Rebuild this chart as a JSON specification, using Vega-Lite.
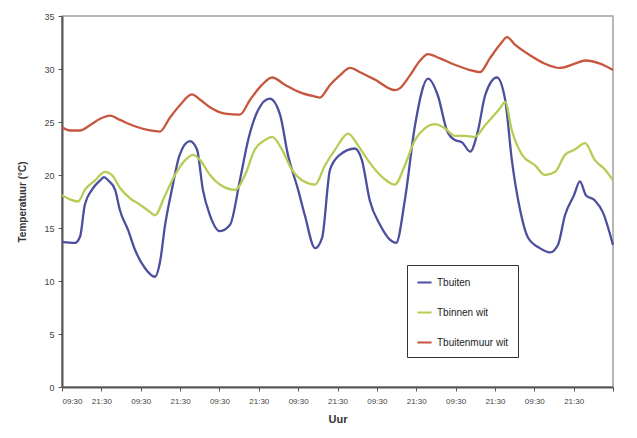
{
  "$schema": "https://vega.github.io/schema/vega-lite/v6.json",
  "width": 551,
  "height": 371,
  "autosize": {"type": "none"},
  "padding": {"left": 62, "top": 16, "right": 24, "bottom": 51},
  "background": "white",
  "config": {
    "view": {"stroke": "#a0a0a0", "strokeWidth": 1.5},
    "font": "Liberation Sans"
  },
  "data": {
    "values": [
      {"s": "Tbuiten", "t": 0, "v": 13.7}, {"s": "Tbuiten", "t": 0.33, "v": 13.6}, {"s": "Tbuiten", "t": 0.46, "v": 14.2}, {"s": "Tbuiten", "t": 0.58, "v": 17.2}, {"s": "Tbuiten", "t": 0.76, "v": 18.6}, {"s": "Tbuiten", "t": 0.97, "v": 19.5}, {"s": "Tbuiten", "t": 1.07, "v": 19.8}, {"s": "Tbuiten", "t": 1.17, "v": 19.5}, {"s": "Tbuiten", "t": 1.35, "v": 18.6}, {"s": "Tbuiten", "t": 1.47, "v": 16.7}, {"s": "Tbuiten", "t": 1.68, "v": 14.8}, {"s": "Tbuiten", "t": 1.86, "v": 12.9}, {"s": "Tbuiten", "t": 2.11, "v": 11.2}, {"s": "Tbuiten", "t": 2.36, "v": 10.4}, {"s": "Tbuiten", "t": 2.49, "v": 11.8}, {"s": "Tbuiten", "t": 2.62, "v": 15.3}, {"s": "Tbuiten", "t": 2.79, "v": 18.6}, {"s": "Tbuiten", "t": 2.99, "v": 21.9}, {"s": "Tbuiten", "t": 3.25, "v": 23.2}, {"s": "Tbuiten", "t": 3.43, "v": 22.4}, {"s": "Tbuiten", "t": 3.58, "v": 18.6}, {"s": "Tbuiten", "t": 3.76, "v": 16.2}, {"s": "Tbuiten", "t": 4.01, "v": 14.7}, {"s": "Tbuiten", "t": 4.27, "v": 15.3}, {"s": "Tbuiten", "t": 4.52, "v": 19.5}, {"s": "Tbuiten", "t": 4.73, "v": 23.3}, {"s": "Tbuiten", "t": 4.98, "v": 26.1}, {"s": "Tbuiten", "t": 5.28, "v": 27.2}, {"s": "Tbuiten", "t": 5.54, "v": 25.7}, {"s": "Tbuiten", "t": 5.74, "v": 21.9}, {"s": "Tbuiten", "t": 6.0, "v": 18.6}, {"s": "Tbuiten", "t": 6.17, "v": 16.2}, {"s": "Tbuiten", "t": 6.43, "v": 13.1}, {"s": "Tbuiten", "t": 6.61, "v": 14.1}, {"s": "Tbuiten", "t": 6.81, "v": 20.5}, {"s": "Tbuiten", "t": 7.06, "v": 21.9}, {"s": "Tbuiten", "t": 7.44, "v": 22.5}, {"s": "Tbuiten", "t": 7.62, "v": 21.4}, {"s": "Tbuiten", "t": 7.82, "v": 17.6}, {"s": "Tbuiten", "t": 8.08, "v": 15.3}, {"s": "Tbuiten", "t": 8.33, "v": 13.9}, {"s": "Tbuiten", "t": 8.49, "v": 13.6}, {"s": "Tbuiten", "t": 8.71, "v": 17.6}, {"s": "Tbuiten", "t": 8.97, "v": 24.7}, {"s": "Tbuiten", "t": 9.3, "v": 29.1}, {"s": "Tbuiten", "t": 9.55, "v": 27.5}, {"s": "Tbuiten", "t": 9.78, "v": 24.2}, {"s": "Tbuiten", "t": 9.98, "v": 23.3}, {"s": "Tbuiten", "t": 10.16, "v": 23.1}, {"s": "Tbuiten", "t": 10.37, "v": 22.2}, {"s": "Tbuiten", "t": 10.57, "v": 24.2}, {"s": "Tbuiten", "t": 10.75, "v": 27.5}, {"s": "Tbuiten", "t": 11.05, "v": 29.2}, {"s": "Tbuiten", "t": 11.26, "v": 27.1}, {"s": "Tbuiten", "t": 11.43, "v": 21.4}, {"s": "Tbuiten", "t": 11.64, "v": 16.7}, {"s": "Tbuiten", "t": 11.84, "v": 14.1}, {"s": "Tbuiten", "t": 12.14, "v": 13.1}, {"s": "Tbuiten", "t": 12.4, "v": 12.7}, {"s": "Tbuiten", "t": 12.6, "v": 13.4}, {"s": "Tbuiten", "t": 12.78, "v": 16.2}, {"s": "Tbuiten", "t": 13.01, "v": 18.1}, {"s": "Tbuiten", "t": 13.16, "v": 19.4}, {"s": "Tbuiten", "t": 13.31, "v": 18.1}, {"s": "Tbuiten", "t": 13.54, "v": 17.6}, {"s": "Tbuiten", "t": 13.74, "v": 16.5}, {"s": "Tbuiten", "t": 14.0, "v": 13.4},

      {"s": "Tbinnen wit", "t": 0, "v": 18.1}, {"s": "Tbinnen wit", "t": 0.2, "v": 17.7}, {"s": "Tbinnen wit", "t": 0.41, "v": 17.5}, {"s": "Tbinnen wit", "t": 0.58, "v": 18.6}, {"s": "Tbinnen wit", "t": 0.84, "v": 19.5}, {"s": "Tbinnen wit", "t": 1.09, "v": 20.3}, {"s": "Tbinnen wit", "t": 1.27, "v": 20.0}, {"s": "Tbinnen wit", "t": 1.47, "v": 18.8}, {"s": "Tbinnen wit", "t": 1.73, "v": 17.8}, {"s": "Tbinnen wit", "t": 1.98, "v": 17.2}, {"s": "Tbinnen wit", "t": 2.24, "v": 16.5}, {"s": "Tbinnen wit", "t": 2.36, "v": 16.2}, {"s": "Tbinnen wit", "t": 2.62, "v": 18.1}, {"s": "Tbinnen wit", "t": 2.87, "v": 20.0}, {"s": "Tbinnen wit", "t": 3.13, "v": 21.4}, {"s": "Tbinnen wit", "t": 3.33, "v": 21.9}, {"s": "Tbinnen wit", "t": 3.51, "v": 21.4}, {"s": "Tbinnen wit", "t": 3.76, "v": 20.0}, {"s": "Tbinnen wit", "t": 4.01, "v": 19.1}, {"s": "Tbinnen wit", "t": 4.4, "v": 18.6}, {"s": "Tbinnen wit", "t": 4.65, "v": 20.0}, {"s": "Tbinnen wit", "t": 4.9, "v": 22.4}, {"s": "Tbinnen wit", "t": 5.16, "v": 23.3}, {"s": "Tbinnen wit", "t": 5.34, "v": 23.6}, {"s": "Tbinnen wit", "t": 5.59, "v": 22.4}, {"s": "Tbinnen wit", "t": 5.84, "v": 20.5}, {"s": "Tbinnen wit", "t": 6.1, "v": 19.5}, {"s": "Tbinnen wit", "t": 6.43, "v": 19.1}, {"s": "Tbinnen wit", "t": 6.68, "v": 20.9}, {"s": "Tbinnen wit", "t": 6.94, "v": 22.4}, {"s": "Tbinnen wit", "t": 7.27, "v": 23.9}, {"s": "Tbinnen wit", "t": 7.52, "v": 22.8}, {"s": "Tbinnen wit", "t": 7.77, "v": 21.4}, {"s": "Tbinnen wit", "t": 8.08, "v": 20.0}, {"s": "Tbinnen wit", "t": 8.46, "v": 19.1}, {"s": "Tbinnen wit", "t": 8.71, "v": 20.9}, {"s": "Tbinnen wit", "t": 8.97, "v": 23.3}, {"s": "Tbinnen wit", "t": 9.22, "v": 24.4}, {"s": "Tbinnen wit", "t": 9.48, "v": 24.8}, {"s": "Tbinnen wit", "t": 9.73, "v": 24.4}, {"s": "Tbinnen wit", "t": 9.98, "v": 23.7}, {"s": "Tbinnen wit", "t": 10.24, "v": 23.7}, {"s": "Tbinnen wit", "t": 10.49, "v": 23.6}, {"s": "Tbinnen wit", "t": 10.75, "v": 24.7}, {"s": "Tbinnen wit", "t": 11.13, "v": 26.3}, {"s": "Tbinnen wit", "t": 11.26, "v": 26.9}, {"s": "Tbinnen wit", "t": 11.43, "v": 24.2}, {"s": "Tbinnen wit", "t": 11.69, "v": 21.9}, {"s": "Tbinnen wit", "t": 12.02, "v": 20.9}, {"s": "Tbinnen wit", "t": 12.27, "v": 20.0}, {"s": "Tbinnen wit", "t": 12.53, "v": 20.3}, {"s": "Tbinnen wit", "t": 12.78, "v": 21.9}, {"s": "Tbinnen wit", "t": 13.03, "v": 22.4}, {"s": "Tbinnen wit", "t": 13.29, "v": 23.0}, {"s": "Tbinnen wit", "t": 13.54, "v": 21.4}, {"s": "Tbinnen wit", "t": 13.8, "v": 20.5}, {"s": "Tbinnen wit", "t": 14.0, "v": 19.5},

      {"s": "Tbuitenmuur wit", "t": 0, "v": 24.5}, {"s": "Tbuitenmuur wit", "t": 0.2, "v": 24.2}, {"s": "Tbuitenmuur wit", "t": 0.46, "v": 24.2}, {"s": "Tbuitenmuur wit", "t": 0.71, "v": 24.7}, {"s": "Tbuitenmuur wit", "t": 0.97, "v": 25.3}, {"s": "Tbuitenmuur wit", "t": 1.22, "v": 25.6}, {"s": "Tbuitenmuur wit", "t": 1.47, "v": 25.2}, {"s": "Tbuitenmuur wit", "t": 1.85, "v": 24.6}, {"s": "Tbuitenmuur wit", "t": 2.24, "v": 24.2}, {"s": "Tbuitenmuur wit", "t": 2.49, "v": 24.1}, {"s": "Tbuitenmuur wit", "t": 2.74, "v": 25.4}, {"s": "Tbuitenmuur wit", "t": 3.0, "v": 26.6}, {"s": "Tbuitenmuur wit", "t": 3.3, "v": 27.6}, {"s": "Tbuitenmuur wit", "t": 3.51, "v": 27.1}, {"s": "Tbuitenmuur wit", "t": 3.76, "v": 26.4}, {"s": "Tbuitenmuur wit", "t": 4.14, "v": 25.8}, {"s": "Tbuitenmuur wit", "t": 4.52, "v": 25.7}, {"s": "Tbuitenmuur wit", "t": 4.78, "v": 27.1}, {"s": "Tbuitenmuur wit", "t": 5.08, "v": 28.5}, {"s": "Tbuitenmuur wit", "t": 5.34, "v": 29.2}, {"s": "Tbuitenmuur wit", "t": 5.67, "v": 28.5}, {"s": "Tbuitenmuur wit", "t": 6.05, "v": 27.8}, {"s": "Tbuitenmuur wit", "t": 6.43, "v": 27.4}, {"s": "Tbuitenmuur wit", "t": 6.55, "v": 27.3}, {"s": "Tbuitenmuur wit", "t": 6.81, "v": 28.5}, {"s": "Tbuitenmuur wit", "t": 7.06, "v": 29.4}, {"s": "Tbuitenmuur wit", "t": 7.32, "v": 30.1}, {"s": "Tbuitenmuur wit", "t": 7.57, "v": 29.7}, {"s": "Tbuitenmuur wit", "t": 7.95, "v": 29.0}, {"s": "Tbuitenmuur wit", "t": 8.46, "v": 28.0}, {"s": "Tbuitenmuur wit", "t": 8.59, "v": 28.2}, {"s": "Tbuitenmuur wit", "t": 8.84, "v": 29.4}, {"s": "Tbuitenmuur wit", "t": 9.1, "v": 30.8}, {"s": "Tbuitenmuur wit", "t": 9.3, "v": 31.4}, {"s": "Tbuitenmuur wit", "t": 9.6, "v": 31.0}, {"s": "Tbuitenmuur wit", "t": 9.98, "v": 30.4}, {"s": "Tbuitenmuur wit", "t": 10.37, "v": 29.9}, {"s": "Tbuitenmuur wit", "t": 10.62, "v": 29.7}, {"s": "Tbuitenmuur wit", "t": 10.87, "v": 31.0}, {"s": "Tbuitenmuur wit", "t": 11.13, "v": 32.3}, {"s": "Tbuitenmuur wit", "t": 11.31, "v": 33.0}, {"s": "Tbuitenmuur wit", "t": 11.51, "v": 32.3}, {"s": "Tbuitenmuur wit", "t": 11.89, "v": 31.3}, {"s": "Tbuitenmuur wit", "t": 12.27, "v": 30.5}, {"s": "Tbuitenmuur wit", "t": 12.65, "v": 30.1}, {"s": "Tbuitenmuur wit", "t": 13.03, "v": 30.5}, {"s": "Tbuitenmuur wit", "t": 13.29, "v": 30.8}, {"s": "Tbuitenmuur wit", "t": 13.67, "v": 30.5}, {"s": "Tbuitenmuur wit", "t": 14.0, "v": 29.9}
    ]
  },
  "mark": {"type": "line", "strokeWidth": 2.3, "interpolate": "monotone"},
  "encoding": {
    "x": {
      "field": "t", "type": "quantitative",
      "scale": {"domain": [0, 14], "nice": false, "zero": false},
      "axis": {
        "title": "Uur", "titleFontSize": 11, "titleFontWeight": "bold", "titleColor": "#333", "titlePadding": 8,
        "values": [0,1,2,3,4,5,6,7,8,9,10,11,12,13,14],
        "labelExpr": "datum.value >= 14 ? '' : (datum.value % 2 == 0 ? '09:30' : '21:30')",
        "labelFontSize": 8, "labelColor": "#444", "labelPadding": 6,
        "domainColor": "#555", "domainWidth": 2, "tickColor": "#555", "tickSize": 4, "grid": false
      }
    },
    "y": {
      "field": "v", "type": "quantitative",
      "scale": {"domain": [0, 35], "nice": false},
      "axis": {
        "title": "Temperatuur (°C)", "titleFontSize": 10, "titleFontWeight": "bold", "titleColor": "#333", "titlePadding": 16,
        "values": [0,5,10,15,20,25,30,35],
        "labelFontSize": 9, "labelColor": "#444", "labelPadding": 4,
        "domainColor": "#555", "domainWidth": 2, "tickColor": "#555", "tickSize": 4, "grid": false
      }
    },
    "color": {
      "field": "s", "type": "nominal",
      "scale": {"domain": ["Tbuiten", "Tbinnen wit", "Tbuitenmuur wit"], "range": ["#4b4f9e", "#b5cd55", "#c8553d"]},
      "legend": {
        "title": null, "orient": "none", "legendX": 345, "legendY": 249,
        "strokeColor": "#333", "fillColor": "white", "padding": 9,
        "symbolType": "stroke", "symbolStrokeWidth": 2, "symbolSize": 200,
        "labelFontSize": 10, "labelColor": "#222", "labelLimit": 200,
        "rowPadding": 16
      }
    }
  }
}
